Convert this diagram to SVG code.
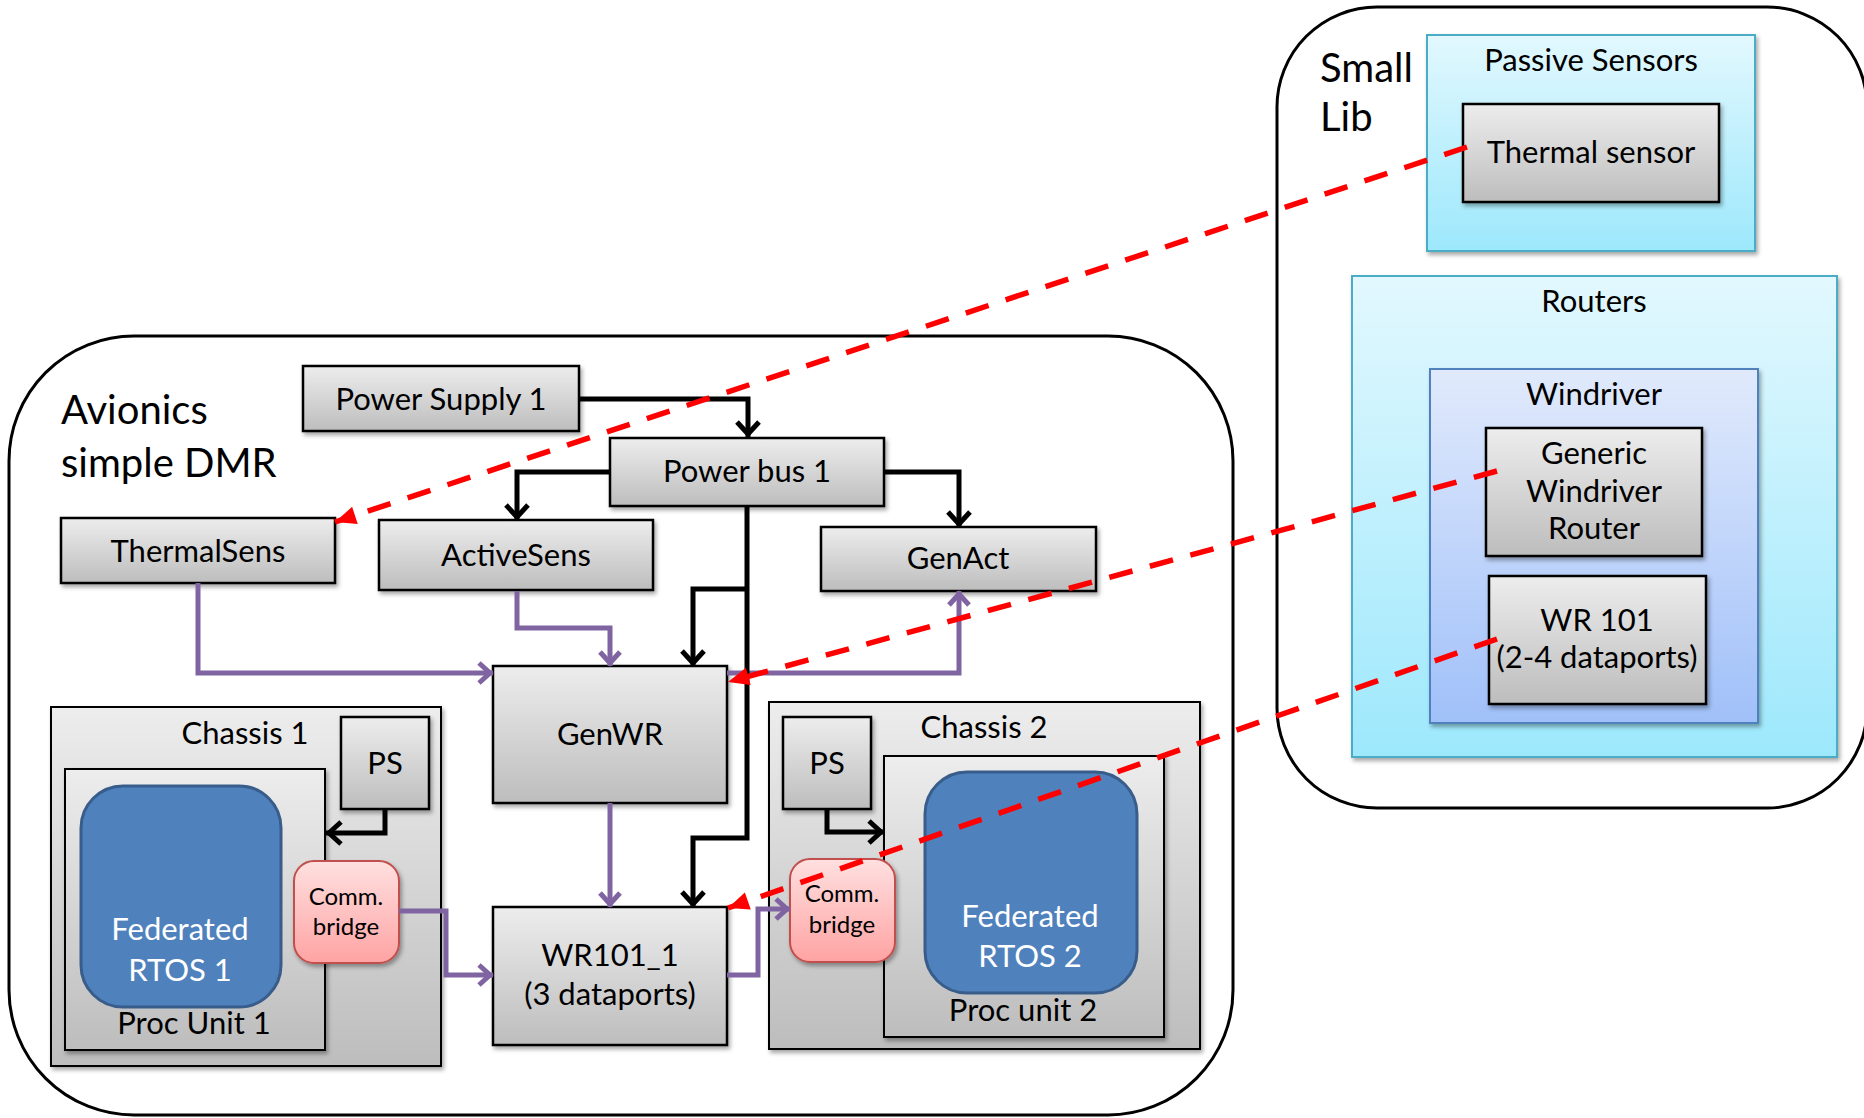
<svg xmlns="http://www.w3.org/2000/svg" width="1864" height="1118" viewBox="0 0 1864 1118">
<defs>
<linearGradient id="gGray" x1="0" y1="0" x2="0" y2="1"><stop offset="0" stop-color="#EDEDED"/><stop offset="1" stop-color="#BDBDBD"/></linearGradient>
<linearGradient id="gPink" x1="0" y1="0" x2="0" y2="1"><stop offset="0" stop-color="#FFE0E0"/><stop offset="1" stop-color="#FFA3A3"/></linearGradient>
<linearGradient id="gCyan" x1="0" y1="0" x2="0" y2="1"><stop offset="0" stop-color="#E2F8FE"/><stop offset="1" stop-color="#9DE8FC"/></linearGradient>
<linearGradient id="gBlue" x1="0" y1="0" x2="0" y2="1"><stop offset="0" stop-color="#E1EAFC"/><stop offset="1" stop-color="#A0C0F9"/></linearGradient>
<filter id="sh" x="-10%" y="-10%" width="130%" height="130%"><feDropShadow dx="2" dy="3" stdDeviation="2" flood-color="#000" flood-opacity="0.35"/></filter>
<marker id="ab" markerUnits="userSpaceOnUse" viewBox="-24 -16 30 32" markerWidth="30" markerHeight="32" refX="0" refY="0" orient="auto"><path d="M-15,-11 L-3,0 L-15,11" fill="none" stroke="#000" stroke-width="5"/></marker>
<marker id="ap" markerUnits="userSpaceOnUse" viewBox="-24 -16 30 32" markerWidth="30" markerHeight="32" refX="0" refY="0" orient="auto"><path d="M-14,-10 L-3,0 L-14,10" fill="none" stroke="#8064A2" stroke-width="5"/></marker>
<marker id="ar" markerUnits="userSpaceOnUse" viewBox="-26 -14 30 28" markerWidth="30" markerHeight="28" refX="0" refY="0" orient="auto"><path d="M0,0 L-21,-9 L-21,9 Z" fill="#FF0000"/></marker>
</defs>
<style>
text{font-family:Lato,"Liberation Sans",sans-serif;fill:#000;}
.lbl{font-size:31px;text-anchor:middle;}
.sm{font-size:24px;text-anchor:middle;}
.ttl{font-size:40px;}
.wt{fill:#FFFFFF;}
.box{fill:url(#gGray);stroke:#000;stroke-width:2.5;filter:url(#sh);}
.cont{fill:url(#gGray);stroke:#000;stroke-width:2;filter:url(#sh);}
.rtos{fill:#4F81BD;stroke:#385D8A;stroke-width:3;}
.brg{fill:url(#gPink);stroke:#C0504D;stroke-width:2;filter:url(#sh);}
.cyan{fill:url(#gCyan);stroke:#4BACC6;stroke-width:2;filter:url(#sh);}
.blue{fill:url(#gBlue);stroke:#4F81BD;stroke-width:2;filter:url(#sh);}
.outer{fill:#FFFFFF;stroke:#000;stroke-width:3;}
.pw{fill:none;stroke:#000;stroke-width:5;}
.dt{fill:none;stroke:#8064A2;stroke-width:5;}
.ln{fill:none;stroke:#FF0000;stroke-width:5.5;stroke-dasharray:24 18;}
</style>

<g id="avionics">
<rect class="outer" x="9" y="336" width="1224" height="779" rx="125" ry="125"/>
<text class="ttl" x="61" y="424">Avionics</text>
<text class="ttl" x="61" y="477">simple DMR</text>
</g>

<g id="smalllib">
<rect class="outer" x="1277" y="7" width="590" height="801" rx="100" ry="100"/>
<text class="ttl" x="1320" y="82">Small</text>
<text class="ttl" x="1320" y="131">Lib</text>
</g>

<g id="passive-sensors">
<rect class="cyan" x="1427" y="35" width="328" height="216"/>
<text class="lbl" x="1591" y="71">Passive Sensors</text>
</g>
<g id="thermal-sensor">
<rect class="box" x="1463" y="104" width="256" height="98"/>
<text class="lbl" x="1591" y="163">Thermal sensor</text>
</g>

<g id="routers">
<rect class="cyan" x="1352" y="276" width="485" height="481"/>
<text class="lbl" x="1594" y="312">Routers</text>
</g>
<g id="windriver">
<rect class="blue" x="1430" y="369" width="328" height="354"/>
<text class="lbl" x="1594" y="405">Windriver</text>
</g>
<g id="generic-router">
<rect class="box" x="1486" y="428" width="216" height="128"/>
<text class="lbl" x="1594" y="464">Generic</text>
<text class="lbl" x="1594" y="502">Windriver</text>
<text class="lbl" x="1594" y="539">Router</text>
</g>
<g id="wr101">
<rect class="box" x="1489" y="576" width="217" height="128"/>
<text class="lbl" x="1597" y="631">WR 101</text>
<text class="lbl" x="1597" y="668">(2-4 dataports)</text>
</g>

<g id="power-supply-1">
<rect class="box" x="303" y="366" width="276" height="65"/>
<text class="lbl" x="441" y="410">Power Supply 1</text>
</g>
<g id="power-bus-1">
<rect class="box" x="610" y="438" width="274" height="68"/>
<text class="lbl" x="747" y="482">Power bus 1</text>
</g>
<g id="thermalsens">
<rect class="box" x="61" y="518" width="274" height="65"/>
<text class="lbl" x="198" y="562">ThermalSens</text>
</g>
<g id="activesens">
<rect class="box" x="379" y="520" width="274" height="70"/>
<text class="lbl" x="516" y="566">ActiveSens</text>
</g>
<g id="genact">
<rect class="box" x="821" y="527" width="275" height="64"/>
<text class="lbl" x="958" y="569">GenAct</text>
</g>
<g id="genwr">
<rect class="box" x="493" y="666" width="234" height="137"/>
<text class="lbl" x="610" y="745">GenWR</text>
</g>
<g id="wr101-1">
<rect class="box" x="493" y="907" width="234" height="138"/>
<text class="lbl" x="610" y="966">WR101_1</text>
<text class="lbl" x="610" y="1005">(3 dataports)</text>
</g>

<g id="chassis-1">
<rect class="cont" x="51" y="707" width="390" height="359"/>
<text class="lbl" x="245" y="744">Chassis 1</text>
</g>
<g id="proc-unit-1">
<rect class="cont" x="65" y="769" width="260" height="281"/>
<text class="lbl" x="194" y="1034">Proc Unit 1</text>
</g>
<g id="rtos-1">
<rect class="rtos" x="81" y="786" width="200" height="221" rx="42" ry="42"/>
<text class="lbl wt" x="180" y="940">Federated</text>
<text class="lbl wt" x="180" y="981">RTOS 1</text>
</g>
<g id="ps-1">
<rect class="box" x="341" y="717" width="88" height="92"/>
<text class="lbl" x="385" y="774">PS</text>
</g>
<g id="bridge-1">
<rect class="brg" x="294" y="861" width="105" height="102" rx="20" ry="20"/>
<text class="sm" x="346" y="905">Comm.</text>
<text class="sm" x="346" y="935">bridge</text>
</g>

<g id="chassis-2">
<rect class="cont" x="769" y="702" width="431" height="347"/>
<text class="lbl" x="984" y="738">Chassis 2</text>
</g>
<g id="proc-unit-2">
<rect class="cont" x="884" y="756" width="280" height="281"/>
<text class="lbl" x="1023" y="1021">Proc unit 2</text>
</g>
<g id="rtos-2">
<rect class="rtos" x="925" y="772" width="212" height="221" rx="42" ry="42"/>
<text class="lbl wt" x="1030" y="927">Federated</text>
<text class="lbl wt" x="1030" y="967">RTOS 2</text>
</g>
<g id="ps-2">
<rect class="box" x="783" y="717" width="88" height="92"/>
<text class="lbl" x="827" y="774">PS</text>
</g>
<g id="bridge-2">
<rect class="brg" x="790" y="859" width="105" height="103" rx="20" ry="20"/>
<text class="sm" x="842" y="902">Comm.</text>
<text class="sm" x="842" y="933">bridge</text>
</g>

<g id="connectors">
<path class="dt" d="M198,583 V673 H493" marker-end="url(#ap)"/>
<path class="dt" d="M517,591 V628 H610 V666" marker-end="url(#ap)"/>
<path class="dt" d="M727,673 H959 V591" marker-end="url(#ap)"/>
<path class="dt" d="M610,803 V907" marker-end="url(#ap)"/>
<path class="dt" d="M399,911 H446 V975 H493" marker-end="url(#ap)"/>
<path class="dt" d="M727,975 H758 V909 H790" marker-end="url(#ap)"/>
<path class="pw" d="M579,399 H748 V437" marker-end="url(#ab)"/>
<path class="pw" d="M610,472 H517 V520" marker-end="url(#ab)"/>
<path class="pw" d="M884,472 H959 V527" marker-end="url(#ab)"/>
<path class="pw" d="M747,589 H693 V666" marker-end="url(#ab)"/>
<path class="pw" d="M747,506 V838 H693 V907" marker-end="url(#ab)"/>
<path class="pw" d="M385,809 V833 H326" marker-end="url(#ab)"/>
<path class="pw" d="M827,809 V832 H884" marker-end="url(#ab)"/>
<path class="ln" d="M1467,147 L335,522" marker-end="url(#ar)"/>
<path class="ln" d="M1497,471 L728,682" marker-end="url(#ar)"/>
<path class="ln" d="M1497,639 L728,908" marker-end="url(#ar)"/>
</g>
</svg>
